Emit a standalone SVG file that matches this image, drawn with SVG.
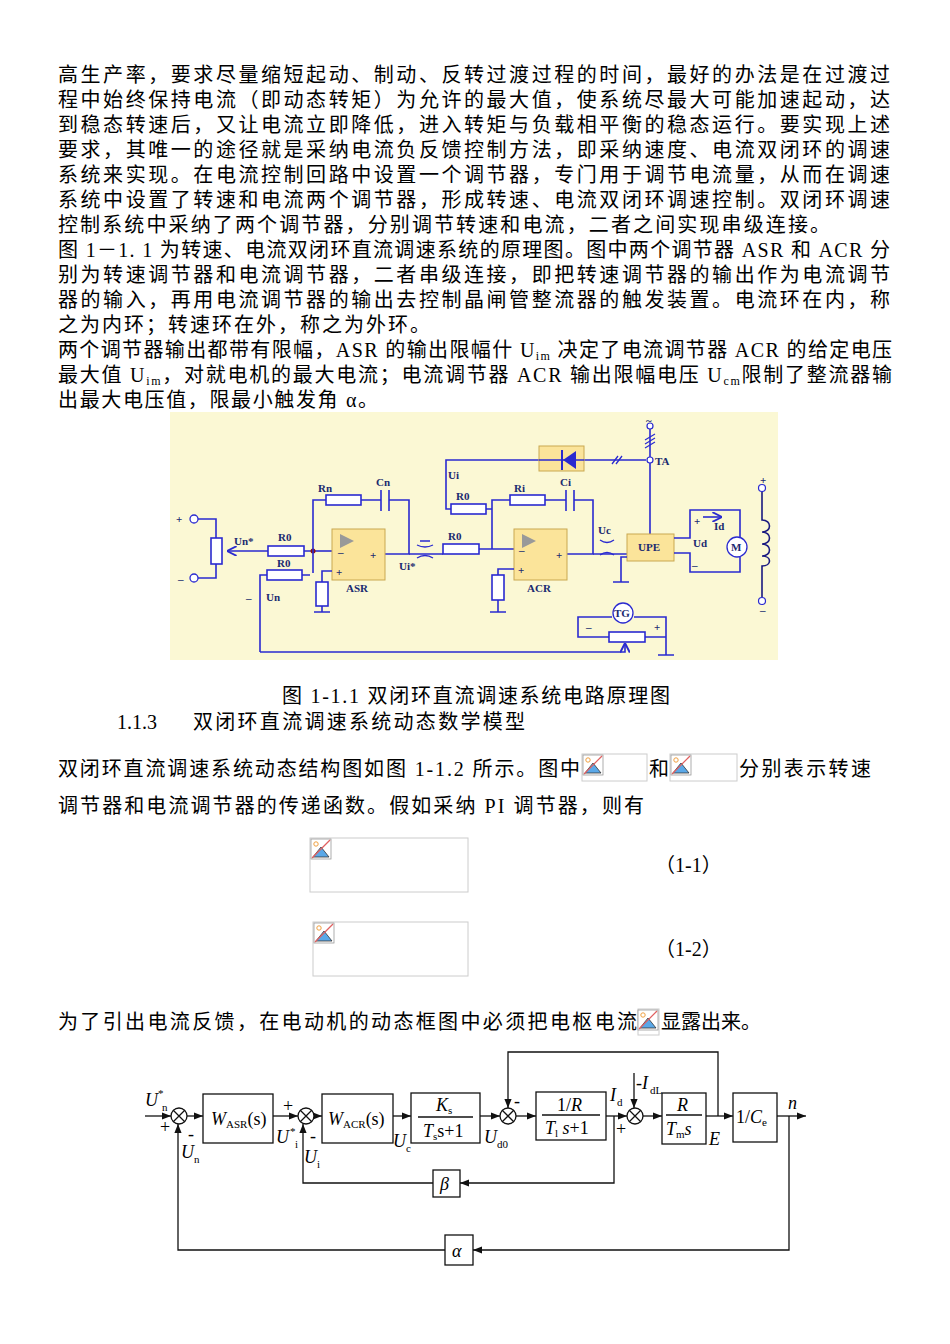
<svg xmlns="http://www.w3.org/2000/svg" width="950" height="1344" viewBox="0 0 950 1344">
<style>
.t{font-family:"Liberation Serif","Noto Sans CJK SC",serif;font-size:20px;fill:#000}
.w{fill:none;stroke:#2a2ad0;stroke-width:1.6}
.k{fill:none;stroke:#111;stroke-width:1.3}
.cl{font-family:"Liberation Serif",serif;font-size:11px;font-weight:bold;fill:#1a2a70}
.res{fill:#fff;stroke:#2a2ad0;stroke-width:1.6}
.box{fill:#fbe49a;stroke:#c9a850;stroke-width:1}
.bl{fill:#fff;stroke:#111;stroke-width:1.3}
.bt{font-family:"Liberation Serif",serif;font-size:18px;font-style:italic;fill:#000}
.bs{font-family:"Liberation Serif",serif;font-size:11px;font-style:normal;fill:#000}
.bn{font-family:"Liberation Serif",serif;font-size:18px;fill:#000}
.ph{fill:#fff;stroke:#ccc;stroke-width:1}
</style>
<defs>
<marker id="ar" viewBox="0 0 10 10" refX="10" refY="5" markerWidth="7" markerHeight="7" orient="auto"><path d="M0,1 L10,5 L0,9 z" fill="#111"/></marker>
<marker id="ab" viewBox="0 0 10 10" refX="10" refY="5" markerWidth="6" markerHeight="6" orient="auto"><path d="M0,0 L10,5 L0,10" fill="none" stroke="#2a2ad0" stroke-width="2"/></marker>
<g id="icon"><rect x="0" y="0" width="20" height="20" fill="#fff" stroke="#999" stroke-width="0.8"/><circle cx="5" cy="5" r="2.2" fill="none" stroke="#f0a040" stroke-width="1"/><path d="M2,18 L10,8 L18,18 z" fill="#5aa8e8" stroke="#333" stroke-width="0.8"/><line x1="1" y1="19" x2="19" y2="1" stroke="#e06060" stroke-width="1.2"/></g>
</defs>
<rect width="950" height="1344" fill="#fff"/>
<g id="para">
<text class="t" x="58" y="82" textLength="832">高生产率，要求尽量缩短起动、制动、反转过渡过程的时间，最好的办法是在过渡过</text>
<text class="t" x="58" y="107" textLength="832">程中始终保持电流（即动态转矩）为允许的最大值，使系统尽最大可能加速起动，达</text>
<text class="t" x="58" y="132" textLength="832">到稳态转速后，又让电流立即降低，进入转矩与负载相平衡的稳态运行。要实现上述</text>
<text class="t" x="58" y="157" textLength="832">要求，其唯一的途径就是采纳电流负反馈控制方法，即采纳速度、电流双闭环的调速</text>
<text class="t" x="58" y="182" textLength="832">系统来实现。在电流控制回路中设置一个调节器，专门用于调节电流量，从而在调速</text>
<text class="t" x="58" y="207" textLength="832">系统中设置了转速和电流两个调节器，形成转速、电流双闭环调速控制。双闭环调速</text>
<text class="t" x="58" y="232" textLength="772">控制系统中采纳了两个调节器，分别调节转速和电流，二者之间实现串级连接。</text>
<text class="t" x="58" y="257" textLength="832">图 1－1. 1 为转速、电流双闭环直流调速系统的原理图。图中两个调节器 ASR 和 ACR 分</text>
<text class="t" x="58" y="282" textLength="832">别为转速调节器和电流调节器，二者串级连接，即把转速调节器的输出作为电流调节</text>
<text class="t" x="58" y="307" textLength="832">器的输入，再用电流调节器的输出去控制晶闸管整流器的触发装置。电流环在内，称</text>
<text class="t" x="58" y="332" textLength="372">之为内环；转速环在外，称之为外环。</text>
<text class="t" x="58" y="357" textLength="834">两个调节器输出都带有限幅，ASR 的输出限幅什 U<tspan font-size="12" dy="3">im</tspan><tspan dy="-3"> 决定了电流调节器 ACR 的给定电压</tspan></text>
<text class="t" x="58" y="382" textLength="834">最大值 U<tspan font-size="12" dy="3">im</tspan><tspan dy="-3">，对就电机的最大电流；电流调节器 ACR 输出限幅电压 U</tspan><tspan font-size="12" dy="3">cm</tspan><tspan dy="-3">限制了整流器输</tspan></text>
<text class="t" x="58" y="407" textLength="320">出最大电压值，限最小触发角 α。</text>
</g>
<g id="circuit">
<rect x="170" y="412" width="608" height="248" fill="#fbf8d4"/>
<circle cx="194" cy="519" r="4" fill="#fff" stroke="#2a2ad0" stroke-width="1.3"/>
<circle cx="194" cy="578" r="4" fill="#fff" stroke="#2a2ad0" stroke-width="1.3"/>
<text class="cl" x="176" y="523" font-size="13">+</text>
<text class="cl" x="178" y="583" font-size="13">–</text>
<path class="w" d="M198,519 H216 V538 M216,564 V578 H198"/>
<rect class="res" x="211" y="538" width="11" height="26"/>
<path class="w" d="M313,551 H227" marker-end="url(#ab)"/>
<rect class="res" x="268" y="546" width="36" height="10"/>
<text class="cl" x="234" y="545">Un*</text>
<text class="cl" x="278" y="541">R0</text>
<path class="w" d="M313,551 H333"/>
<circle cx="313" cy="551" r="2.5" fill="#8b1010"/>
<path class="w" d="M260,652 V575 H267 M302,575 H310 M313,573 V500 H326 M361,500 H381 M389,500 H409 V554 H385"/>
<rect class="res" x="267" y="570" width="35" height="10"/>
<text class="cl" x="277" y="567">R0</text>
<rect class="res" x="326" y="495" width="35" height="10"/>
<text class="cl" x="318" y="492">Rn</text>
<path d="M381,490 V511 M389,490 V511" stroke="#2a2ad0" stroke-width="1.6"/>
<text class="cl" x="376" y="486">Cn</text>
<rect class="box" x="332" y="529" width="53" height="51"/>
<path d="M340,534 L354,541 L340,548 z" fill="#999"/>
<text class="cl" x="338" y="556" font-size="13">–</text>
<text class="cl" x="370" y="559" font-size="12">+</text>
<text class="cl" x="336" y="576" font-size="12">+</text>
<text class="cl" x="346" y="592">ASR</text>
<path class="w" d="M332,571 H322 V582 M322,606 V612 M314,612 H330"/>
<rect class="res" x="316" y="582" width="12" height="24"/>
<path class="w" d="M409,554 H443 M479,549 H514 M492,549 V500 H510 M545,500 H566 M574,500 H593 V554 H567"/>
<path d="M420,541 H430 M417,545 Q425,549 433,545 M417,558 Q425,553 433,558" fill="none" stroke="#2a2ad0" stroke-width="1.3"/>
<text class="cl" x="399" y="570">Ui*</text>
<rect class="res" x="443" y="544" width="36" height="10"/>
<text class="cl" x="448" y="540">R0</text>
<rect class="res" x="510" y="495" width="35" height="10"/>
<text class="cl" x="514" y="492">Ri</text>
<path d="M566,490 V511 M574,490 V511" stroke="#2a2ad0" stroke-width="1.6"/>
<text class="cl" x="560" y="486">Ci</text>
<rect class="box" x="514" y="529" width="53" height="51"/>
<path d="M522,534 L536,541 L522,548 z" fill="#999"/>
<text class="cl" x="519" y="554" font-size="13">–</text>
<text class="cl" x="556" y="559" font-size="12">+</text>
<text class="cl" x="518" y="574" font-size="12">+</text>
<text class="cl" x="527" y="592">ACR</text>
<path class="w" d="M514,569 H498 V575 M498,600 V612 M490,612 H506"/>
<rect class="res" x="492" y="575" width="12" height="25"/>
<path class="w" d="M492,509 H486 M451,509 H446 V460 H539 M584,460 H646"/>
<rect class="res" x="451" y="504" width="35" height="10"/>
<text class="cl" x="456" y="500">R0</text>
<text class="cl" x="448" y="479">Ui</text>
<rect x="539" y="446" width="45" height="25" fill="#fbe49a" stroke="#c9a850"/>
<path d="M539,460 H584" stroke="#2a2ad0" stroke-width="1.6"/>
<path d="M576,451 L576,469 L563,460 z" fill="#2a2ad0"/>
<path d="M562,450 V470" stroke="#2a2ad0" stroke-width="2"/>
<path d="M612,464 L618,456 M616,464 L622,456" stroke="#2a2ad0" stroke-width="1.3"/>
<text class="cl" x="646" y="424" font-size="10">~</text>
<circle cx="650" cy="426" r="3" fill="#fff" stroke="#2a2ad0" stroke-width="1.2"/>
<circle cx="650" cy="460" r="3" fill="#fff" stroke="#2a2ad0" stroke-width="1.2"/>
<path class="w" d="M650,429 V457 M650,463 V534"/>
<path d="M645,444 L655,438 M645,448 L655,442 M645,440 L655,434" stroke="#2a2ad0" stroke-width="1.2"/>
<text class="cl" x="655" y="465">TA</text>
<path class="w" d="M593,554 H627"/>
<path d="M600,540 Q607,545 614,540 M600,555 Q607,550 614,555" fill="none" stroke="#2a2ad0" stroke-width="1.3"/>
<text class="cl" x="598" y="534">Uc</text>
<rect class="box" x="627" y="534" width="47" height="27"/>
<text class="cl" x="638" y="551">UPE</text>
<path class="w" d="M627,557 H621 V582 M613,582 H629"/>
<path class="w" d="M674,538 H690 V510 H740 V537 M674,553 H690 V572 H740 V557"/>
<circle cx="737" cy="547" r="10" fill="#fff" stroke="#2a2ad0" stroke-width="1.3"/>
<text class="cl" x="731" y="551">M</text>
<text class="cl" x="694" y="525">+</text>
<path class="w" d="M703,517 H722" marker-end="url(#ab)"/>
<text class="cl" x="714" y="530">Id</text>
<text class="cl" x="693" y="547">Ud</text>
<text class="cl" x="692" y="569">–</text>
<circle cx="762" cy="488" r="3.5" fill="#fff" stroke="#2a2ad0" stroke-width="1.2"/>
<circle cx="762" cy="601" r="3.5" fill="#fff" stroke="#2a2ad0" stroke-width="1.2"/>
<text class="cl" x="760" y="484">+</text>
<text class="cl" x="760" y="614">–</text>
<path d="M762,492 V520 C772,520 772,532 762,532 C772,532 772,544 762,544 C772,544 772,556 762,556 C772,556 772,566 762,566 V597" fill="none" stroke="#1a1a80" stroke-width="1.6"/>
<path class="w" d="M578,628 V617 H612 M634,617 H666 V655 M578,628 V637 H609 M645,637 H666 M658,655 H674"/>
<circle cx="623" cy="613" r="10" fill="#fff" stroke="#2a2ad0" stroke-width="1.3"/>
<text class="cl" x="614" y="617">TG</text>
<text class="cl" x="586" y="631">–</text>
<text class="cl" x="654" y="631">+</text>
<rect class="res" x="609" y="632" width="36" height="10"/>
<path class="w" d="M260,652 H625 V643" marker-end="url(#ab)"/>
<text class="cl" x="246" y="602" font-size="13">–</text>
<text class="cl" x="266" y="601">Un</text>
</g>
<g id="mid">
<text class="t" x="282" y="703" textLength="388">图 1-1.1 双闭环直流调速系统电路原理图</text>
<text class="t" x="117" y="729">1.1.3</text>
<text class="t" x="193" y="729" textLength="332">双闭环直流调速系统动态数学模型</text>
<text class="t" x="58" y="776" textLength="522">双闭环直流调速系统动态结构图如图 1-1.2 所示。图中</text>
<rect class="ph" x="582" y="754" width="65" height="27"/><use href="#icon" x="583" y="755"/>
<text class="t" x="649" y="776">和</text>
<rect class="ph" x="670" y="754" width="67" height="27"/><use href="#icon" x="671" y="755"/>
<text class="t" x="739" y="776" textLength="132">分别表示转速</text>
<text class="t" x="58" y="813" textLength="586">调节器和电流调节器的传递函数。假如采纳 PI 调节器，则有</text>
<rect class="ph" x="310" y="838" width="158" height="54"/><use href="#icon" x="311" y="839"/>
<text class="t" x="655" y="872">（1-1）</text>
<rect class="ph" x="313" y="922" width="155" height="54"/><use href="#icon" x="314" y="923"/>
<text class="t" x="655" y="956">（1-2）</text>
<text class="t" x="58" y="1029" textLength="579">为了引出电流反馈，在电动机的动态框图中必须把电枢电流</text>
<rect class="ph" x="638" y="1009" width="21" height="26"/><use href="#icon" x="638" y="1010"/>
<text class="t" x="661" y="1029">显露出来。</text>
</g>
<g id="connectors">
<path class="k" d="M145,1116 H171" marker-end="url(#ar)"/>
<path class="k" d="M187,1116 H203" marker-end="url(#ar)"/>
<path class="k" d="M273,1116 H298" marker-end="url(#ar)"/>
<path class="k" d="M314,1116 H322" marker-end="url(#ar)"/>
<path class="k" d="M393,1116 H411" marker-end="url(#ar)"/>
<path class="k" d="M480,1116 H500" marker-end="url(#ar)"/>
<path class="k" d="M516,1116 H536" marker-end="url(#ar)"/>
<path class="k" d="M606,1116 H627" marker-end="url(#ar)"/>
<path class="k" d="M634,1073 V1108" marker-end="url(#ar)"/>
<path class="k" d="M643,1116 H662" marker-end="url(#ar)"/>
<path class="k" d="M706,1116 H733" marker-end="url(#ar)"/>
<path class="k" d="M718,1116 V1052 H508 V1108" marker-end="url(#ar)"/>
<path class="k" d="M777,1116 H806" marker-end="url(#ar)"/>
<path class="k" d="M789,1116 V1250 H473" marker-end="url(#ar)"/>
<path class="k" d="M445,1250 H178 V1124" marker-end="url(#ar)"/>
<path class="k" d="M614,1116 V1183 H460" marker-end="url(#ar)"/>
<path class="k" d="M433,1183 H303 V1124" marker-end="url(#ar)"/>
</g>
<g id="sum1"><circle cx="179" cy="1116" r="8" class="bl"/><path class="k" d="M173,1110 L185,1122 M185,1110 L173,1122"/></g>
<g id="sum2"><circle cx="306" cy="1116" r="8" class="bl"/><path class="k" d="M300,1110 L312,1122 M312,1110 L300,1122"/></g>
<g id="sum3"><circle cx="508" cy="1116" r="8" class="bl"/><path class="k" d="M502,1110 L514,1122 M514,1110 L502,1122"/></g>
<g id="sum4"><circle cx="635" cy="1116" r="8" class="bl"/><path class="k" d="M629,1110 L641,1122 M641,1110 L629,1122"/></g>
<g id="wasr"><rect class="bl" x="203" y="1094" width="70" height="49"/><text class="bt" x="211" y="1125">W<tspan class="bs" dy="3">ASR</tspan><tspan font-style="normal" dy="-3">(s)</tspan></text></g>
<g id="wacr"><rect class="bl" x="322" y="1094" width="71" height="49"/><text class="bt" x="328" y="1125">W<tspan class="bs" dy="3">ACR</tspan><tspan font-style="normal" dy="-3">(s)</tspan></text></g>
<g id="ks"><rect class="bl" x="411" y="1093" width="69" height="50"/><text class="bt" x="436" y="1111">K<tspan class="bs" dy="3">s</tspan></text><line class="k" x1="418" y1="1117" x2="473" y2="1117"/><text class="bt" x="423" y="1137">T<tspan class="bs" dy="3">s</tspan><tspan font-style="normal" dy="-3">s+1</tspan></text></g>
<g id="r1"><rect class="bl" x="536" y="1092" width="70" height="48"/><text class="bn" x="557" y="1111">1/<tspan font-style="italic">R</tspan></text><line class="k" x1="542" y1="1115" x2="600" y2="1115"/><text class="bt" x="545" y="1134">T<tspan class="bs" font-style="italic" dy="3">l</tspan><tspan font-style="normal" dy="-3"> </tspan><tspan dy="0">s</tspan><tspan font-style="normal">+1</tspan></text></g>
<g id="rtm"><rect class="bl" x="662" y="1093" width="44" height="51"/><text class="bt" x="677" y="1111">R</text><line class="k" x1="666" y1="1115" x2="702" y2="1115"/><text class="bt" x="666" y="1135">T<tspan class="bs" dy="3">m</tspan><tspan dy="-3">s</tspan></text></g>
<g id="ce"><rect class="bl" x="733" y="1093" width="44" height="49"/><text class="bn" x="736" y="1123">1/<tspan font-style="italic">C</tspan><tspan class="bs" dy="3">e</tspan></text></g>
<g id="beta"><rect class="bl" x="433" y="1170" width="27" height="27"/><text class="bt" x="440" y="1190">β</text></g>
<g id="alpha"><rect class="bl" x="445" y="1235" width="28" height="30"/><text class="bt" x="452" y="1257">α</text></g>
<g id="labels">
<text class="bt" x="145" y="1106">U</text><text class="bs" x="158" y="1097">*</text><text class="bs" x="162" y="1111">n</text>
<text class="bn" x="160" y="1133">+</text><text class="bn" x="188" y="1140">-</text>
<text class="bt" x="181" y="1158">U</text><text class="bs" x="194" y="1163">n</text>
<text class="bn" x="283" y="1112">+</text>
<text class="bt" x="276" y="1143">U</text><text class="bs" x="290" y="1135">*</text><text class="bs" x="295" y="1148">i</text>
<text class="bn" x="310" y="1142">-</text>
<text class="bt" x="304" y="1163">U</text><text class="bs" x="317" y="1168">i</text>
<text class="bt" x="393" y="1147">U</text><text class="bs" x="406" y="1152">c</text>
<text class="bn" x="514" y="1107">-</text>
<text class="bt" x="484" y="1143">U</text><text class="bs" x="497" y="1148">d0</text>
<text class="bt" x="610" y="1101">I</text><text class="bs" x="617" y="1106">d</text>
<text class="bn" x="636" y="1089">-<tspan font-style="italic">I</tspan></text><text class="bs" x="650" y="1094">dL</text>
<text class="bn" x="616" y="1135">+</text>
<text class="bt" x="709" y="1145">E</text>
<text class="bt" x="788" y="1109">n</text>
</g>
</svg>
